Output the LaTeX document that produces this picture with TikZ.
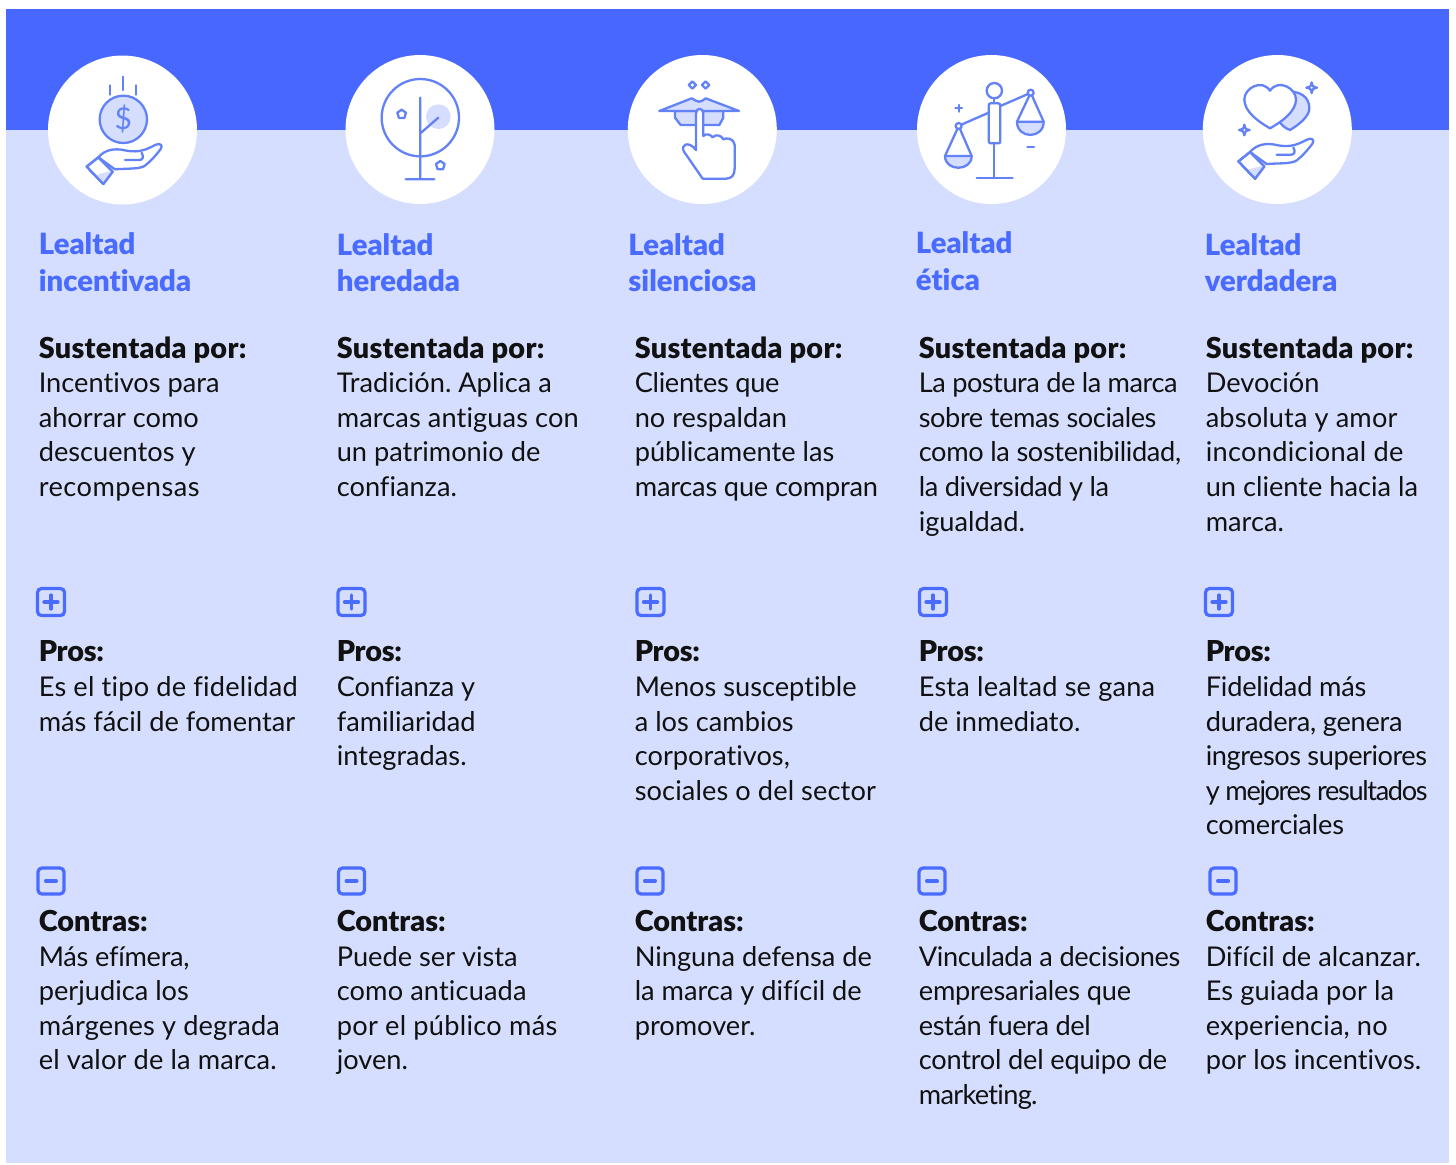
\documentclass[tikz,border=0pt]{standalone}
\usepackage{fontspec}
\setmainfont{Lato}[Ligatures=NoCommon]
\newfontfamily\heavy{Lato Black}[Ligatures=NoCommon,Scale=1.06]
\newcommand{\hv}[1]{{\heavy #1}}
\newcommand{\sq}[2]{{\addfontfeature{LetterSpace=#1}#2}}
\definecolor{band}{HTML}{4767FF}
\definecolor{pale}{HTML}{D5DEFE}
\definecolor{iconline}{HTML}{6382F8}
\definecolor{ttl}{HTML}{4A6BFF}
\definecolor{ink}{HTML}{111111}
\tikzset{
  iconcirc/.style={circle,fill=white,minimum size=74.5pt,inner sep=0pt},
  ttlbox/.style={anchor=north west,inner sep=0pt,align=left,text=ttl,font=\fontsize{13.8}{18.3}\selectfont\heavy,execute at begin node=\frenchspacing\strut},
  bodybox/.style={anchor=north west,inner sep=0pt,align=left,text=ink,font=\fontsize{13.6}{17.3}\selectfont,execute at begin node=\frenchspacing\strut},
  ico/.style={draw=iconline,line width=1.15pt,line join=round,line cap=round},
  signbox/.style={draw=ttl,line width=1.6pt,rounded corners=2pt,fill=none,inner sep=0pt},
  signbar/.style={draw=ttl,line width=1.6pt,line cap=round},
}
\newcommand{\handicon}{%
  \draw[ico,fill=white] (175,322) .. controls (195,298) and (225,295) .. (250,300) .. controls (285,308) and (310,305) .. (345,285) .. controls (360,278) and (370,285) .. (362,297) .. controls (345,320) and (330,335) .. (315,347) .. controls (300,358) and (260,355) .. (225,358) -- cycle;
  \draw[ico] (255,330) -- (298,330) .. controls (308,330) and (312,322) .. (305,308);
  \draw[ico,fill=white] (140,350) -- (175,322) -- (218,365) -- (190,402) -- cycle;
  \fill[pale] (165,376) -- (205,365) -- (214,365) -- (190,398) -- cycle;
  \draw[ico] (140,350) -- (175,322) -- (218,365) -- (190,402) -- cycle;
}
\newcommand{\minstar}[2]{\draw[ico,fill=white] (#1,#2-16) .. controls (#1+2,#2-4) and (#1+4,#2-2) .. (#1+16,#2) .. controls (#1+4,#2+2) and (#1+2,#2+4) .. (#1,#2+16) .. controls (#1-2,#2+4) and (#1-4,#2+2) .. (#1-16,#2) .. controls (#1-4,#2-2) and (#1-2,#2-4) .. (#1,#2-16) -- cycle;}
\begin{document}
\begin{tikzpicture}[x=0.5pt,y=-0.5pt]
\useasboundingbox (0,0) rectangle (1456,1164);
\fill[white] (0,0) rectangle (1456,1164);
\fill[pale] (6,130) rectangle (1449,1163);
\fill[band] (6,9) rectangle (1449,130);
% circles
\node[iconcirc] (c1) at (122.5,130) {};
\node[iconcirc] (c2) at (420,129.5) {};
\node[iconcirc] (c3) at (702.3,129.5) {};
\node[iconcirc] (c4) at (991.5,129.5) {};
\node[iconcirc] (c5) at (1277.3,129.5) {};
% icon 1
\begin{scope}[shift={(40,50)},scale=1/3]
  \draw[ico] (250,80) -- (250,120) (211,106) -- (211,134) (289,106) -- (289,134);
  \draw[ico,fill=pale] (250,208) circle (71);
  \node[text=iconline,inner sep=0pt,font=\fontsize{15}{15}\selectfont] (dollar) at (250,208) {\$};
  \handicon
\end{scope}
% icon 2
\begin{scope}[shift={(40,50)},scale=1/3]
  \fill[pale] (1195,200) circle (37);
  \draw[ico] (1141,203) circle (116);
  \draw[ico] (1141,143) -- (1141,388) (1097,388) -- (1183,388) (1141,250) -- (1195,203);
  \draw[ico] (1085,179) -- (1098,188) -- (1093,204) -- (1077,204) -- (1072,188) -- cycle;
  \draw[ico] (1201,333) -- (1214,342) -- (1209,358) -- (1193,358) -- (1188,342) -- cycle;
\end{scope}
% icon 3
\begin{scope}[shift={(620,50)},scale=1/3]
  \draw[ico] (217,94) -- (228,105) -- (217,116) -- (206,105) -- cycle (257,94) -- (268,105) -- (257,116) -- (246,105) -- cycle;
  \draw[ico,fill=pale] (165,183) -- (165,203) -- (182,225) -- (298,225) -- (310,203) -- (310,183) -- cycle;
  \draw[ico,fill=pale] (118,183) -- (215,145) .. controls (225,150) and (230,155) .. (237,155) .. controls (245,155) and (250,150) .. (257,145) -- (357,183) -- cycle;
  \draw[ico,fill=white] (228,190) .. controls (228,172) and (250,172) .. (250,190) -- (250,258) .. controls (258,250) and (270,252) .. (278,262) .. controls (285,252) and (305,255) .. (310,268) .. controls (320,262) and (342,265) .. (344,285) -- (344,355) .. controls (344,375) and (335,386) .. (318,386) -- (248,386) -- (192,305) .. controls (180,285) and (205,270) .. (228,300) -- cycle;
\end{scope}
% icon 4
\begin{scope}[shift={(620,50)},scale=1/3]
  \draw[ico] (1123,122) circle (23);
  \draw[ico] (1123,145) -- (1123,160) (1123,280) -- (1123,383) (1070,383) -- (1178,383);
  \draw[ico,rounded corners=1pt] (1106,160) rectangle (1141,280);
  \draw[ico] (1024,224) -- (1106,188) (1141,168) -- (1224,132);
  \draw[ico] (1016,228) circle (9) (1232,128) circle (9);
  \draw[ico] (1012,237) -- (975,318) (1020,237) -- (1055,318);
  \draw[ico,fill=pale] (975,318) -- (1055,318) .. controls (1055,365) and (975,365) .. (975,318) -- cycle;
  \draw[ico] (1228,137) -- (1191,215) (1236,137) -- (1271,215);
  \draw[ico,fill=pale] (1191,215) -- (1271,215) .. controls (1271,268) and (1191,268) .. (1191,215) -- cycle;
  \draw[ico] (1006,175) -- (1026,175) (1016,165) -- (1016,185) (1222,292) -- (1242,292);
\end{scope}
% icon 5
\begin{scope}[shift={(1190,50)},scale=1/3]
  \draw[ico,fill=pale] (300,125) .. controls (330,125) and (358,140) .. (358,175) .. controls (358,200) and (325,225) .. (300,240) .. controls (285,235) and (275,225) .. (268,215) -- cycle;
  \draw[ico,fill=white] (240,235) .. controls (205,215) and (163,185) .. (163,148) .. controls (163,115) and (215,85) .. (240,122) .. controls (265,85) and (318,115) .. (318,148) .. controls (318,185) and (275,215) .. (240,235) -- cycle;
  \minstar{365}{113}
  \minstar{163}{240}
\end{scope}
\begin{scope}[shift={(1191.7,44.7)},scale=1/3]
  \handicon
\end{scope}
% titles
\node[ttlbox] (t1) at (38.5,232.4) {Lealtad\\incentivada};
\node[ttlbox] (t2) at (336.5,232.9) {Lealtad\\heredada};
\node[ttlbox] (t3) at (628,232.9) {Lealtad\\silenciosa};
\node[ttlbox] (t4) at (915.5,231.4) {Lealtad\\ética};
\node[ttlbox] (t5) at (1204.5,232.9) {Lealtad\\verdadera};
% sustentada
\newcommand{\sust}{\hv{\sq{1}{Sustentada por:}}}
\node[bodybox] (s1) at (38.4,336.2) {\sust\\Incentivos para\\ahorrar como\\descuentos y\\\sq{1.7}{recompensas}};
\node[bodybox] (s2) at (336.4,336.2) {\sust\\Tradición. Aplica a\\\sq{0.4}{marcas antiguas con}\\un patrimonio de\\confianza.};
\node[bodybox] (s3) at (634.4,336.2) {\sust\\\sq{-1.2}{Clientes que}\\no respaldan\\públicamente las\\\sq{-0.8}{marcas que compran}};
\node[bodybox] (s4) at (918.4,336.2) {\sust\\\sq{-1.85}{La postura de la marca}\\\sq{-1.5}{sobre temas sociales}\\\sq{-1.3}{como la sostenibilidad,}\\\sq{-1.65}{la diversidad y la}\\igualdad.};
\node[bodybox] (s5) at (1205.4,336.2) {\sust\\Devoción\\\sq{0.5}{absoluta y amor}\\\sq{1.1}{incondicional de}\\un cliente hacia la\\marca.};
% plus
\foreach \n/\x in {1/51,2/351.5,3/650.5,4/933,5/1219}{
  \node[signbox,minimum size=13.5pt] (plus\n) at (\x,602) {};
  \draw[signbar] ([xshift=-3.5pt]plus\n.center) -- ([xshift=3.5pt]plus\n.center);
  \draw[signbar] ([yshift=-3.5pt]plus\n.center) -- ([yshift=3.5pt]plus\n.center);
}
% pros
\node[bodybox] (p1) at (38.4,640.4) {\hv{\sq{-0.8}{Pros:}}\\\sq{0.8}{Es el tipo de fidelidad}\\más fácil de fomentar};
\node[bodybox] (p2) at (336.4,640.4) {\hv{\sq{-0.8}{Pros:}}\\\sq{-0.6}{Confianza y}\\familiaridad\\integradas.};
\node[bodybox] (p3) at (634.4,640.4) {\hv{\sq{-0.8}{Pros:}}\\Menos susceptible\\a los cambios\\corporativos,\\\sq{0.4}{sociales o del sector}};
\node[bodybox] (p4) at (918.4,640.4) {\hv{\sq{-0.8}{Pros:}}\\\sq{0.75}{Esta lealtad se gana}\\de inmediato.};
\node[bodybox] (p5) at (1205.4,640.4) {\hv{\sq{-0.8}{Pros:}}\\\sq{-0.8}{Fidelidad más}\\\sq{-1}{duradera, genera}\\\sq{-1.75}{ingresos superiores}\\\sq{-5}{y mejores resultados}\\\sq{-0.6}{comerciales}};
% minus
\foreach \n/\x in {1/51,2/351.5,3/650,4/932,5/1223}{
  \node[signbox,minimum size=13pt] (minus\n) at (\x,881) {};
  \draw[signbar] ([xshift=-2.7pt]minus\n.center) -- ([xshift=2.7pt]minus\n.center);
}
% contras
\node[bodybox] (m1) at (38.4,909.8) {\hv{Contras:}\\\sq{-1}{Más efímera,}\\perjudica los\\\sq{0.6}{márgenes y degrada}\\\sq{0.6}{el valor de la marca.}};
\node[bodybox] (m2) at (336.4,909.8) {\hv{Contras:}\\Puede ser vista\\\sq{0.5}{como anticuada}\\\sq{1}{por el público más}\\joven.};
\node[bodybox] (m3) at (634.4,909.8) {\hv{Contras:}\\Ninguna defensa de\\la marca y difícil de\\promover.};
\node[bodybox] (m4) at (918.4,909.8) {\hv{Contras:}\\\sq{-1.35}{Vinculada a decisiones}\\\sq{-0.7}{empresariales que}\\\sq{-1.5}{están fuera del}\\\sq{-0.9}{control del equipo de}\\\sq{-2.6}{marketing.}};
\node[bodybox] (m5) at (1205.4,909.8) {\hv{Contras:}\\Difícil de alcanzar.\\\sq{0.5}{Es guiada por la}\\\sq{0.5}{experiencia, no}\\por los incentivos.};
\end{tikzpicture}
\end{document}
